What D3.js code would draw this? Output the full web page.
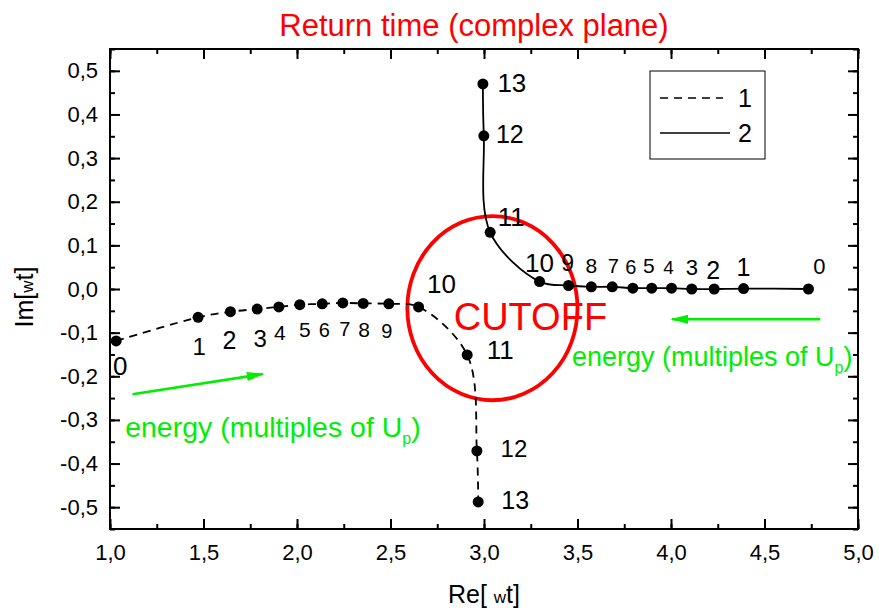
<!DOCTYPE html>
<html>
<head>
<meta charset="utf-8">
<script src="https://cdn.jsdelivr.net/npm/d3@7"></script>
<style>
body { margin: 0; background: #fff; }
svg { font-family: "Liberation Sans", Arial, sans-serif; }
</style>
</head>
<body>
<div id="chart"></div>
<script>
// energy of each point, in multiples of Up
var energy = [0, 1, 2, 3, 4, 5, 6, 7, 8, 9, 10, 11, 12, 13];

// solution 1 (dashed)
var re1 = [1.033, 1.471, 1.644, 1.787, 1.903, 2.015, 2.135, 2.245, 2.354, 2.491, 2.650, 2.910, 2.962, 2.969];
var im1 = [-0.119, -0.065, -0.052, -0.046, -0.041, -0.036, -0.034, -0.032, -0.033, -0.034, -0.041, -0.151, -0.371, -0.488];

// solution 2 (solid)
var re2 = [4.735, 4.388, 4.231, 4.111, 4.003, 3.897, 3.796, 3.686, 3.574, 3.452, 3.297, 3.033, 2.999, 2.994];
var im2 = [0.000, 0.001, 0.000, 0.000, 0.002, 0.002, 0.002, 0.005, 0.005, 0.008, 0.017, 0.130, 0.351, 0.470];

var seriesNames = ["1", "2"];
var xTicks = [1.0, 1.5, 2.0, 2.5, 3.0, 3.5, 4.0, 4.5, 5.0];
var yTicks = [-0.5, -0.4, -0.3, -0.2, -0.1, 0.0, 0.1, 0.2, 0.3, 0.4, 0.5];

// where each energy label sits next to its dot: [dx, dy, font size]
var labelPos1 = [[4,34,26],[1,38,24],[-1,37,25],[3,38,24],[1,33,21],[5,32,21],[2,33,20],[2,33,20],[1,34,21],[-2,34,20],[23,-14,26],[33,4,26],[37,6,24],[37,7,25]];
var labelPos2 = [[11,-15,22],[0,-13,25],[-1,-10,25],[0,-14,22],[-3,-14,19],[-3,-15,21],[-2,-14,20],[1,-14,20],[0,-14,21],[-1,-15,23],[0,-10,26],[21,-6,26],[26,7,25],[29,8,26]];

var margin = { top: 49, right: 21, bottom: 85, left: 110 },
    width = 879 - margin.left - margin.right,
    height = 614 - margin.top - margin.bottom;

var x = d3.scaleLinear().domain([1, 5]).range([0, width]);
var y = d3.scaleLinear().domain([-0.55, 0.55]).range([height, 0]);

// comma decimals like the original
var loc = d3.formatLocale({ decimal: ",", thousands: ".", grouping: [3], currency: ["", ""], minus: "-" });
var fmt = loc.format(".1f");

var svg = d3.select("#chart").append("svg")
    .attr("width", 879)
    .attr("height", 614);

svg.append("defs").append("marker")
    .attr("id", "head")
    .attr("markerUnits", "userSpaceOnUse")
    .attr("markerWidth", 18).attr("markerHeight", 12)
    .attr("viewBox", "0 -6 18 12")
    .attr("refX", 16).attr("refY", 0)
    .attr("orient", "auto")
    .append("path")
    .attr("d", "M0,-4.5L18,0L0,4.5Z")
    .attr("fill", "#00ee00");

var g = svg.append("g")
    .attr("transform", "translate(" + margin.left + "," + margin.top + ")");

// title
svg.append("text")
    .attr("x", 474).attr("y", 36)
    .attr("text-anchor", "middle")
    .attr("fill", "red")
    .style("font-size", "31px")
    .text("Return time (complex plane)");

// ticks: minor ones first, then majors on top
var xMinor = d3.range(1, 5.001, 0.25);
var yMinor = d3.range(-0.55, 0.551, 0.05).map(function(v) { return Math.round(v * 100) / 100; });

function styleAxis(sel) {
    sel.select(".domain").remove();
    sel.selectAll("line").attr("stroke", "#000").attr("stroke-width", 2);
    sel.selectAll("text").attr("fill", "#000").style("font-size", "22px").style("font-family", null);
}

g.append("g").attr("transform", "translate(0," + height + ")")
    .call(d3.axisBottom(x).tickValues(xMinor).tickSize(-5).tickFormat("")).call(styleAxis);
g.append("g").attr("transform", "translate(0," + height + ")")
    .call(d3.axisBottom(x).tickValues(xTicks).tickSize(-10).tickPadding(15).tickFormat(fmt)).call(styleAxis);
g.append("g")
    .call(d3.axisTop(x).tickValues(xMinor).tickSize(-5).tickFormat("")).call(styleAxis);
g.append("g")
    .call(d3.axisTop(x).tickValues(xTicks).tickSize(-10).tickFormat("")).call(styleAxis);

g.append("g")
    .call(d3.axisLeft(y).tickValues(yMinor).tickSize(-5).tickFormat("")).call(styleAxis);
g.append("g")
    .call(d3.axisLeft(y).tickValues(yTicks).tickSize(-10).tickPadding(12).tickFormat(fmt)).call(styleAxis);
g.append("g").attr("transform", "translate(" + width + ",0)")
    .call(d3.axisRight(y).tickValues(yMinor).tickSize(-5).tickFormat("")).call(styleAxis);
g.append("g").attr("transform", "translate(" + width + ",0)")
    .call(d3.axisRight(y).tickValues(yTicks).tickSize(-10).tickFormat("")).call(styleAxis);

g.append("rect")
    .attr("width", width).attr("height", height)
    .attr("fill", "none").attr("stroke", "#000").attr("stroke-width", 2);

// axis titles
svg.append("text")
    .attr("x", margin.left + width / 2).attr("y", 603)
    .attr("text-anchor", "middle")
    .style("font-size", "25px")
    .call(function(t) {
        t.append("tspan").text("Re[ ");
        t.append("tspan").style("font-size", "17px").text("w");
        t.append("tspan").text("t]");
    });

svg.append("text")
    .attr("transform", "translate(33,297) rotate(-90)")
    .attr("text-anchor", "middle")
    .style("font-size", "25px")
    .call(function(t) {
        t.append("tspan").text("Im[");
        t.append("tspan").style("font-size", "17px").text("w");
        t.append("tspan").text("t]");
    });

// cutoff ellipse
var ell = { cx: 3.045, cy: -0.044, rx: 0.455, ry: 0.211 };
g.append("ellipse")
    .attr("cx", x(ell.cx)).attr("cy", y(ell.cy))
    .attr("rx", x(1 + ell.rx) - x(1)).attr("ry", y(0) - y(ell.ry))
    .attr("fill", "none").attr("stroke", "red").attr("stroke-width", 3.8);

var line = d3.line()
    .x(function(d) { return x(d.re); })
    .y(function(d) { return y(d.im); })
    .curve(d3.curveCatmullRom.alpha(0.5));

var series = [
    { name: seriesNames[0], dash: "8,6", pos: labelPos1,
      pts: energy.map(function(e, i) { return { e: e, re: re1[i], im: im1[i] }; }) },
    { name: seriesNames[1], dash: null, pos: labelPos2,
      pts: energy.map(function(e, i) { return { e: e, re: re2[i], im: im2[i] }; }) }
];

series.forEach(function(s) {
    g.append("path")
        .datum(s.pts)
        .attr("d", line)
        .attr("fill", "none")
        .attr("stroke", "#000")
        .attr("stroke-width", 1.8)
        .attr("stroke-dasharray", s.dash);

    g.selectAll(null)
        .data(s.pts)
        .enter().append("circle")
        .attr("cx", function(d) { return x(d.re); })
        .attr("cy", function(d) { return y(d.im); })
        .attr("r", 5.5)
        .attr("fill", "#000");

    g.selectAll(null)
        .data(s.pts)
        .enter().append("text")
        .attr("x", function(d, i) { return x(d.re) + s.pos[i][0]; })
        .attr("y", function(d, i) { return y(d.im) + s.pos[i][1]; })
        .attr("text-anchor", "middle")
        .style("font-size", function(d, i) { return s.pos[i][2] + "px"; })
        .text(function(d) { return d.e; });
});

// CUTOFF label
g.append("text")
    .attr("x", x(2.838)).attr("y", y(-0.094))
    .attr("fill", "red")
    .style("font-size", "38px")
    .text("CUTOFF");

// energy arrows (green)
var arrows = [
    { x1: 1.120, y1: -0.241, x2: 1.817, y2: -0.195 },
    { x1: 4.798, y1: -0.0695, x2: 4.006, y2: -0.0695 }
];
g.selectAll(null)
    .data(arrows)
    .enter().append("line")
    .attr("x1", function(d) { return x(d.x1); })
    .attr("y1", function(d) { return y(d.y1); })
    .attr("x2", function(d) { return x(d.x2); })
    .attr("y2", function(d) { return y(d.y2); })
    .attr("stroke", "#00ee00")
    .attr("stroke-width", 2.5)
    .attr("marker-end", "url(#head)");

var energyText = [{ x: 1.081, y: -0.339, size: 28.5 }, { x: 3.470, y: -0.177, size: 27 }];
g.selectAll(null)
    .data(energyText)
    .enter().append("text")
    .attr("x", function(d) { return x(d.x); })
    .attr("y", function(d) { return y(d.y); })
    .attr("fill", "#00ee00")
    .style("font-size", function(d) { return d.size + "px"; })
    .each(function() {
        var t = d3.select(this);
        t.append("tspan").text("energy (multiples of U");
        t.append("tspan").attr("dy", 7).style("font-size", "16px").text("p");
        t.append("tspan").attr("dy", -7).text(")");
    });

// legend
var leg = svg.append("g").attr("transform", "translate(650,71)");
leg.append("rect")
    .attr("width", 115).attr("height", 88)
    .attr("fill", "#fff").attr("stroke", "#000").attr("stroke-width", 1);
series.forEach(function(s, i) {
    var ly = 27 + i * 35;
    leg.append("line")
        .attr("x1", 10).attr("x2", i === 0 ? 73 : 80)
        .attr("y1", ly).attr("y2", ly)
        .attr("stroke", "#000").attr("stroke-width", 1.6)
        .attr("stroke-dasharray", s.dash);
    leg.append("text")
        .attr("x", 95).attr("y", ly + 9)
        .attr("text-anchor", "middle")
        .style("font-size", "25px")
        .text(s.name);
});
</script>
</body>
</html>
